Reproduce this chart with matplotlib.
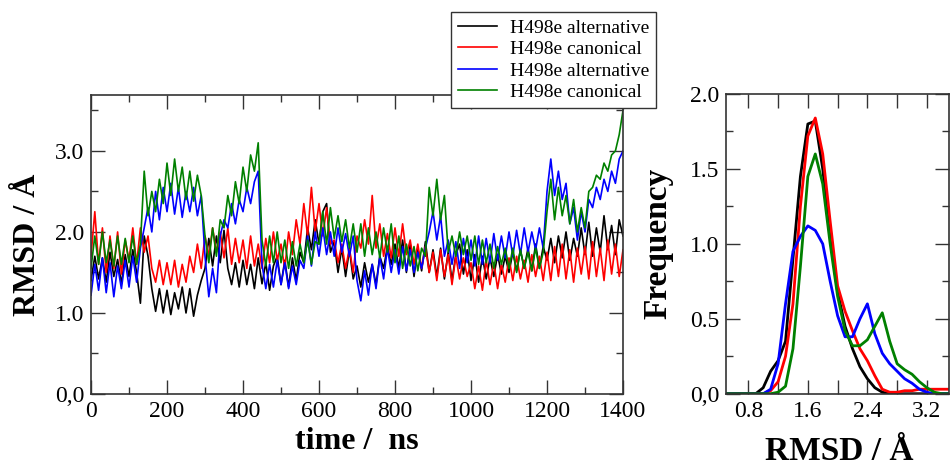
import numpy as np
import matplotlib
matplotlib.use('Agg')
import matplotlib.pyplot as plt
from matplotlib.ticker import MultipleLocator, FuncFormatter

plt.rcParams['font.family'] = ['Liberation Serif', 'DejaVu Serif']

# time axis, ns (10 ns steps)
time_ns = list(range(0, 1401, 10))

rmsd_alt1 = [
    1.40, 1.70, 1.42, 1.68, 1.38, 1.75, 1.45, 1.66, 1.36, 1.72,
    1.45, 1.78, 1.50, 1.12, 1.95, 1.70, 1.30, 1.02, 1.30, 1.00,
    1.28, 0.98, 1.25, 1.05, 1.32, 1.00, 1.30, 0.96, 1.22, 1.40,
    1.55, 1.92, 1.58, 1.95, 1.62, 2.02, 1.55, 1.35, 1.62, 1.32,
    1.65, 1.35, 1.60, 1.30, 1.68, 1.36, 1.62, 1.28, 1.58, 1.70,
    1.35, 1.65, 1.32, 1.68, 1.40, 1.75, 1.62, 2.05, 1.78, 2.15,
    1.85, 2.25, 2.35, 1.75, 1.88, 1.50, 1.80, 1.45, 1.78, 1.42,
    1.58, 1.32, 1.62, 1.38, 1.60, 1.35, 1.70, 1.55, 1.82, 1.60,
    1.85, 1.55, 1.90, 1.50, 1.85, 1.45, 1.80, 1.52, 1.88, 1.50,
    1.78, 1.45, 1.80, 1.42, 1.75, 1.40, 1.72, 1.85, 1.48, 1.78,
    1.40, 1.72, 1.38, 1.70, 1.42, 1.68, 1.45, 1.72, 1.48, 1.70,
    1.50, 1.75, 1.52, 1.78, 1.55, 1.80, 1.52, 1.85, 1.55, 1.82,
    1.65, 1.92, 1.62, 1.95, 1.68, 2.00, 1.65, 1.92, 1.70, 2.05,
    1.72, 2.12, 1.70, 2.05, 1.75, 2.20, 1.78, 2.08, 1.72, 2.15,
    1.95]

rmsd_can1 = [
    1.70, 2.25, 1.60, 2.05, 1.50, 1.95, 1.55, 2.00, 1.48, 1.90,
    1.65, 2.05, 1.60, 2.05, 1.75, 1.95, 1.55, 1.38, 1.65, 1.35,
    1.62, 1.35, 1.65, 1.32, 1.60, 1.38, 1.70, 1.50, 1.85, 1.55,
    1.95, 1.70, 2.05, 1.75, 2.00, 1.68, 2.05, 1.60, 1.92, 1.62,
    1.90, 1.55, 1.95, 1.58, 1.85, 1.55, 1.92, 1.62, 2.00, 1.65,
    1.85, 1.55, 2.00, 1.72, 2.15, 1.85, 2.35, 1.95, 2.55, 2.00,
    2.35, 1.95, 2.30, 1.85, 1.90, 1.62, 1.85, 1.55, 1.80, 1.50,
    1.95, 1.80, 2.15, 1.85, 2.45, 1.80, 2.10, 1.70, 1.98, 1.68,
    2.05, 1.70, 2.10, 1.72, 1.90, 1.60, 1.85, 1.55, 1.82, 1.50,
    1.75, 1.40, 1.78, 1.45, 1.72, 1.35, 1.70, 1.42, 1.68, 1.45,
    1.62, 1.30, 1.58, 1.28, 1.65, 1.35, 1.62, 1.30, 1.60, 1.38,
    1.68, 1.40, 1.70, 1.42, 1.65, 1.38, 1.72, 1.45, 1.70, 1.40,
    1.75, 1.40, 1.82, 1.45, 1.85, 1.42, 1.78, 1.38, 1.80, 1.48,
    1.82, 1.42, 1.88, 1.45, 1.80, 1.40, 1.90, 1.48, 1.85, 1.45,
    1.78]

rmsd_alt2 = [
    1.22, 1.60, 1.28, 1.68, 1.25, 1.62, 1.20, 1.58, 1.30, 1.65,
    1.32, 1.70, 1.38, 1.80, 2.05, 2.30, 2.00, 2.50, 2.15, 2.55,
    2.25, 2.60, 2.22, 2.55, 2.18, 2.50, 2.25, 2.55, 2.20, 2.45,
    1.70, 1.20, 1.55, 1.25, 1.95, 2.15, 2.05, 2.35, 2.10, 2.40,
    2.25, 2.55, 2.35, 2.62, 2.75, 1.60, 1.30, 1.60, 1.32, 1.65,
    1.35, 1.62, 1.30, 1.58, 1.35, 1.65, 1.55, 1.95, 1.58, 2.00,
    1.70, 2.05, 1.72, 2.00, 1.70, 2.05, 1.75, 1.98, 1.70, 1.95,
    1.40, 1.15, 1.52, 1.22, 1.60, 1.30, 1.70, 1.42, 1.80, 1.50,
    1.78, 1.48, 1.82, 1.52, 1.78, 1.50, 1.75, 1.55, 1.80, 2.00,
    2.25, 1.90, 2.20, 1.70, 1.90, 1.60, 1.88, 1.55, 1.92, 1.62,
    1.90, 1.58, 1.95, 1.60, 1.92, 1.62, 1.98, 1.65, 1.95, 1.68,
    2.00, 1.70, 2.02, 1.72, 2.05, 1.75, 2.00, 1.78, 2.05, 1.80,
    2.50, 2.90, 2.45, 2.75, 2.40, 2.60, 2.10, 2.30, 1.90, 2.25,
    2.00, 2.40, 2.30, 2.55, 2.40, 2.65, 2.50, 2.75, 2.60, 2.90,
    3.00]

rmsd_can2 = [
    1.55, 1.95, 1.60, 2.00, 1.62, 1.90, 1.58, 1.95, 1.60, 1.92,
    1.62, 1.95, 1.60, 1.85, 2.75, 2.20, 2.50, 2.25, 2.65, 2.35,
    2.85, 2.45, 2.90, 2.50, 2.80, 2.40, 2.75, 2.38, 2.70, 2.45,
    1.95, 1.62, 2.05, 1.70, 2.15, 2.05, 2.45, 2.20, 2.62, 2.35,
    2.80, 2.50, 2.95, 2.75, 3.10, 1.90, 1.58, 1.95, 1.62, 2.00,
    1.62, 1.90, 1.55, 1.88, 1.58, 1.85, 1.62, 1.90, 1.60, 1.88,
    1.85, 2.25, 1.85, 2.30, 1.92, 2.20, 1.88, 2.15, 1.80, 2.10,
    1.75, 2.10, 1.70, 2.05, 1.72, 2.00, 1.68, 2.05, 1.75, 2.10,
    1.62, 1.95, 1.55, 1.85, 1.58, 1.82, 1.52, 1.80, 1.70, 2.55,
    2.20, 2.65, 2.15, 2.45, 1.75, 1.95, 1.70, 2.00, 1.72, 1.95,
    1.65, 1.95, 1.60, 1.90, 1.62, 1.85, 1.55, 1.82, 1.60, 1.80,
    1.55, 1.80, 1.50, 1.78, 1.55, 1.75, 1.52, 1.80, 1.55, 1.75,
    2.25, 2.65, 2.15, 2.55, 2.20, 2.45, 2.10, 2.40, 2.00, 2.30,
    2.05, 2.50, 2.55, 2.70, 2.65, 2.85, 2.75, 2.95, 3.00, 3.20,
    3.50]

# RMSD distribution (right panel)
rmsd_bins = [round(0.5 + 0.1 * i, 1) for i in range(31)]
freq_alt1 = [0, 0, 0, 0, 0, 0.04, 0.15, 0.22, 0.35, 0.90, 1.45, 1.80, 1.82, 1.50, 1.05, 0.68,
             0.45, 0.30, 0.18, 0.10, 0.04, 0.01, 0, 0, 0, 0, 0, 0, 0, 0, 0]
freq_can1 = [0, 0, 0, 0, 0, 0, 0.02, 0.08, 0.25, 0.60, 1.25, 1.72, 1.84, 1.60, 1.15, 0.72,
             0.55, 0.42, 0.30, 0.22, 0.12, 0.03, 0.01, 0.01, 0.02, 0.02, 0.03, 0.03, 0.03, 0.03, 0.03]
freq_alt2 = [0, 0, 0, 0, 0, 0, 0.03, 0.20, 0.60, 0.95, 1.05, 1.12, 1.09, 1.00, 0.75, 0.52,
             0.38, 0.38, 0.50, 0.60, 0.40, 0.27, 0.20, 0.15, 0.10, 0.07, 0.03, 0.01, 0, 0, 0]
freq_can2 = [0, 0, 0, 0, 0, 0, 0, 0.01, 0.05, 0.30, 0.85, 1.45, 1.60, 1.40, 1.00, 0.65,
             0.42, 0.32, 0.32, 0.36, 0.45, 0.54, 0.35, 0.20, 0.16, 0.13, 0.08, 0.04, 0.01, 0, 0]

labels = ['H498e alternative', 'H498e canonical', 'H498e alternative', 'H498e canonical']
colors = ['black', 'red', 'blue', 'green']


def comma_zero(v, pos):
    if abs(v) < 1e-9:
        return '0,0'
    return '%.1f' % v


def style_axes(ax):
    for s in ax.spines.values():
        s.set_color('#333333')
        s.set_linewidth(1.2)
    ax.tick_params(which='both', direction='in', top=True, right=True,
                   color='#333333', width=1.0, labelsize=17, pad=5)
    ax.tick_params(which='major', length=10)
    ax.tick_params(which='minor', length=5)


fig = plt.figure(figsize=(9.5, 4.65), dpi=100)

# left: RMSD vs time
ax1 = fig.add_axes([0.0958, 0.1527, 0.56, 0.643])
series = [rmsd_alt1, rmsd_can1, rmsd_alt2, rmsd_can2]
handles = []
for vals, c, lab in zip(series, colors, labels):
    h, = ax1.plot(time_ns, vals, color=c, lw=1.2, label=lab)
    handles.append(h)
ax1.set_xlim(0, 1400)
ax1.set_ylim(0, 3.69)
ax1.xaxis.set_major_locator(MultipleLocator(200))
ax1.xaxis.set_minor_locator(MultipleLocator(100))
ax1.yaxis.set_major_locator(MultipleLocator(1.0))
ax1.yaxis.set_minor_locator(MultipleLocator(0.5))
ax1.yaxis.set_major_formatter(FuncFormatter(comma_zero))
style_axes(ax1)
ax1.set_xlabel('time /  ns', fontsize=23, fontweight='bold')
ax1.set_ylabel('RMSD / Å', fontsize=23, fontweight='bold')
ax1.xaxis.set_label_coords(0.5, -0.11)
ax1.yaxis.set_label_coords(-0.092, 0.5)

# right: distributions
ax2 = fig.add_axes([0.7642, 0.1533, 0.235, 0.6445])
for vals, c in zip([freq_alt1, freq_can1, freq_alt2, freq_can2], colors):
    ax2.plot(rmsd_bins, vals, color=c, lw=2.0)
ax2.set_xlim(0.5, 3.5)
ax2.set_ylim(0, 2.0)
ax2.xaxis.set_major_locator(MultipleLocator(0.4))
ax2.xaxis.set_major_formatter(FuncFormatter(
    lambda v, p: ('%.1f' % v) if abs(v / 0.8 - round(v / 0.8)) < 1e-6 else ''))
ax2.yaxis.set_major_locator(MultipleLocator(0.5))
ax2.yaxis.set_minor_locator(MultipleLocator(0.25))
ax2.yaxis.set_major_formatter(FuncFormatter(comma_zero))
style_axes(ax2)
ax2.set_xlabel('RMSD / Å', fontsize=24, fontweight='bold')
ax2.set_ylabel('Frequency', fontsize=24, fontweight='bold')
ax2.xaxis.set_label_coords(0.507, -0.14)
ax2.yaxis.set_label_coords(-0.236, 0.5)

leg = fig.legend(handles=handles, loc='upper left', bbox_to_anchor=(0.4747, 0.974),
                 fontsize=14, frameon=True, fancybox=False, framealpha=1,
                 edgecolor='#333333', handlelength=2.0, labelspacing=0.2,
                 borderpad=0.35, handletextpad=0.7, borderaxespad=0)
leg.get_frame().set_linewidth(1.0)

fig.savefig('out.png', dpi=100)
